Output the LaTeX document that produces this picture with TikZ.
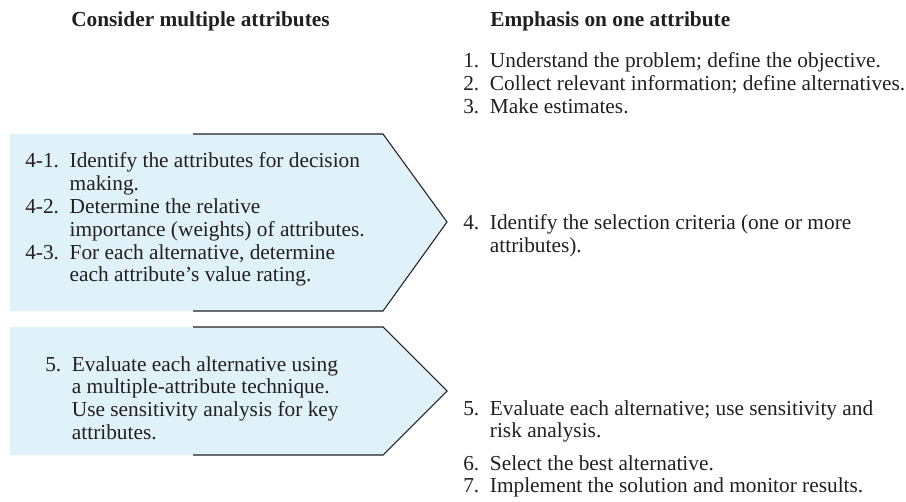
\documentclass[tikz,border=0pt]{standalone}
\usepackage{fontspec}
\setmainfont{Liberation Serif}
\definecolor{boxblue}{HTML}{DFF2FA}
\definecolor{ink}{HTML}{231F20}
\newcommand\steplist[1]{\begin{tabular}[t]{@{}r@{\hspace{8pt}}l@{}}#1\end{tabular}}

\begin{document}
\begin{tikzpicture}[x=0.75pt,y=-0.75pt,
  txt/.style={anchor=base west,inner sep=0pt,text=ink,font=\fontsize{16}{17.1}\selectfont},
  head/.style={txt,font=\fontsize{16}{17.1}\selectfont\bfseries}]
  \useasboundingbox (0,0) rectangle (906,502);
  % chevron boxes
  \foreach \t/\m/\b in {134/222/311,327/391/455}{
    \fill[boxblue] (10,\t)--(383,\t)--(447,\m)--(383,\b)--(10,\b)--cycle;
    \draw[ink,line width=0.8pt] (193,\t)--(383,\t)--(447,\m)--(383,\b)--(193,\b);}
  % headings
  \node[head] (multi) at (71,27) {Consider multiple attributes};
  \node[head] (single) at (490,27) {Emphasis on one attribute};
  % left column
  \node[txt] (attr) at (25,168) {\steplist{4-1. & Identify the attributes for decision\\
    & making.\\
    4-2. & Determine the relative\\
    & importance (weights) of attributes.\\
    4-3. & For each alternative, determine\\
    & each attribute's value rating.}};
  \node[txt] (evalm) at (45,371) {\steplist{5. & Evaluate each alternative using\\
    & a multiple-attribute technique.\\
    & Use sensitivity analysis for key\\
    & attributes.}};
  % right column
  \node[txt] (first) at (463,68) {\steplist{1. & Understand the problem; define the objective.\\
    2. & Collect relevant information; define alternatives.\\
    3. & Make estimates.}};
  \node[txt] (crit) at (463,230) {\steplist{4. & Identify the selection criteria (one or more\\
    & attributes).}};
  \node[txt] (evals) at (463,415) {\steplist{5. & Evaluate each alternative; use sensitivity and\\
    & risk analysis.}};
  \node[txt] (last) at (463,470) {\steplist{6. & Select the best alternative.\\
    7. & Implement the solution and monitor results.}};
\end{tikzpicture}
\end{document}
